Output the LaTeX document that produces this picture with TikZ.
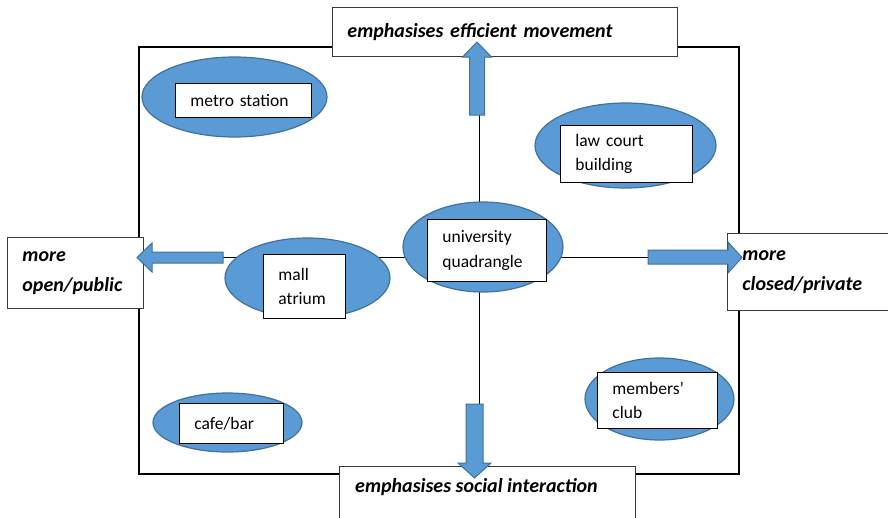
\documentclass[tikz,border=0pt]{standalone}
\usepackage{fontspec}
\setmainfont{Carlito}
\usetikzlibrary{shapes.geometric}
\definecolor{blobfill}{HTML}{5B9BD5}
\definecolor{blobline}{HTML}{41719C}
\definecolor{frameline}{HTML}{3A3A3A}
\begin{document}
\begin{tikzpicture}[x=1pt,y=-1pt,
  blob/.style={ellipse, fill=blobfill, draw=blobline, line width=1.2pt, inner sep=0pt},
  tbox/.style={draw=black, fill=white, line width=0.9pt, anchor=north west, inner xsep=15pt, inner ysep=0pt, align=left, font=\fontsize{17.5}{24.5}\selectfont},
  lblbox/.style={draw=frameline, fill=white, line width=0.9pt, anchor=north west, inner xsep=15pt, inner ysep=0pt, align=left, font=\fontsize{20}{29.5}\selectfont\bfseries\itshape},
  lbltext/.style={inner sep=0pt, anchor=west, font=\fontsize{20}{29.5}\selectfont\bfseries\itshape},
  bigarrow/.style={fill=blobfill, draw=blobline, line width=1pt, line join=miter},
  cross/.style={line width=1pt, draw=black}]

\useasboundingbox (0,0) rectangle (888,517);
\fill[white] (0,0) rectangle (888,517);

% main frame
\draw[line width=2pt] (139,47) rectangle (739,474);

% cross lines
\coordinate (vt) at (479,115);
\coordinate (vb) at (479,404);
\coordinate (hl) at (223,257);
\coordinate (hr) at (648,257);
\draw[cross] (vt) -- (vb);
\draw[cross] (hl) -- (hr);

% ellipses
\node[blob, minimum width=185pt, minimum height=80pt] (metroE) at (234.5,97) {};
\node[blob, minimum width=181pt, minimum height=85pt] (lawE) at (625.5,145.5) {};
\node[blob, minimum width=165pt, minimum height=80pt] (mallE) at (307.5,278) {};
\node[blob, minimum width=160pt, minimum height=90pt] (uniE) at (483,247) {};
\node[blob, minimum width=149pt, minimum height=59pt] (cafeE) at (227.5,422.5) {};
\node[blob, minimum width=149pt, minimum height=82pt] (clubE) at (659.5,399) {};

% text boxes
\node[tbox, minimum width=136pt, minimum height=34pt, text width=106pt] (metro) at (175,83) {metro station};
\node[tbox, minimum width=132pt, minimum height=57pt, text width=102pt] (law) at (560,125) {law court\\building};
\node[tbox, minimum width=82pt, minimum height=64pt, text width=52pt] (mall) at (263,254) {mall\\atrium};
\node[tbox, minimum width=119pt, minimum height=62pt, text width=89pt] (uni) at (427,219) {university\\quadrangle};
\node[tbox, minimum width=104pt, minimum height=40pt, text width=74pt] (cafe) at (179,403) {cafe/bar};
\node[tbox, minimum width=120pt, minimum height=56pt, text width=90pt] (club) at (597,372) {members’\\club};

% label boxes
\node[lblbox, minimum width=345pt, minimum height=49pt, text width=315pt] (toplbl) at (332,7) {emphasises efficient movement};
\node[lblbox, minimum width=136pt, minimum height=71pt, text width=106pt] (leftlbl) at (7,237) {more\\open/public};
\node[lblbox, minimum width=200pt, minimum height=77pt, text width=170pt] (rightlbl) at (727,233) {more\\closed/private};
\fill[white] (339,466) rectangle (635,530);
\draw[draw=frameline, line width=0.9pt] (339,530) -- (339,466) -- (635,466) -- (635,530);
\node[lbltext] (botlbl) at (355,487) {emphasises social interaction};

% block arrows
\draw[bigarrow] (469.5,115) -- (469.5,57) -- (462.5,57) -- (477,42) -- (491.5,57) -- (484.5,57) -- (484.5,115) -- cycle;
\draw[bigarrow] (466,404) -- (483,404) -- (483,463) -- (491,463) -- (474.5,478) -- (458,463) -- (466,463) -- cycle;
\draw[bigarrow] (223,252) -- (152,252) -- (152,243) -- (137,257.5) -- (152,272) -- (152,263) -- (223,263) -- cycle;
\draw[bigarrow] (648,250) -- (728,250) -- (728,242) -- (742,257.5) -- (728,273) -- (728,264) -- (648,264) -- cycle;
\end{tikzpicture}
\end{document}
